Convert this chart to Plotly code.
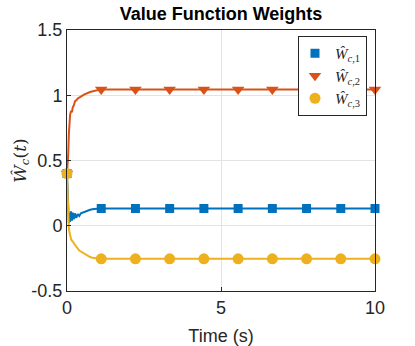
import plotly.graph_objects as go

# time samples (s)
t = [0, 0.02, 0.04, 0.06, 0.08, 0.1, 0.13, 0.16, 0.19, 0.22, 0.26, 0.3, 0.35, 0.4, 0.45,
     0.55, 0.65, 0.75, 0.87, 1.0, 1.111,
     2.222, 3.333, 4.444, 5.556, 6.667, 7.778, 8.889, 10]
w1 = [0.4, 0.25, 0.1, 0.02, 0.1, 0.03, 0.11, 0.04, 0.1, 0.05, 0.095, 0.06, 0.09, 0.075, 0.095,
      0.105, 0.115, 0.122, 0.128, 0.131, 0.132,
      0.132, 0.132, 0.132, 0.132, 0.132, 0.132, 0.132, 0.132]
w2 = [0.4, 0.45, 0.55, 0.7, 0.8, 0.85, 0.88, 0.87, 0.91, 0.92, 0.955, 0.96, 0.975, 0.985, 0.99,
      1.005, 1.017, 1.025, 1.033, 1.04, 1.045,
      1.045, 1.045, 1.045, 1.045, 1.045, 1.045, 1.045, 1.045]
w3 = [0.4, 0.2, 0.05, -0.02, -0.05, -0.084, -0.1, -0.115, -0.12, -0.134, -0.15, -0.165, -0.175, -0.19, -0.198,
      -0.215, -0.23, -0.24, -0.248, -0.252, -0.253,
      -0.253, -0.253, -0.253, -0.253, -0.253, -0.253, -0.253, -0.253]

# marker sample times and values
t_mark = [0, 1.111, 2.222, 3.333, 4.444, 5.556, 6.667, 7.778, 8.889, 10]
m1 = [0.4, 0.132, 0.132, 0.132, 0.132, 0.132, 0.132, 0.132, 0.132, 0.132]
m2 = [0.4, 1.045, 1.045, 1.045, 1.045, 1.045, 1.045, 1.045, 1.045, 1.045]
m3 = [0.4, -0.253, -0.253, -0.253, -0.253, -0.253, -0.253, -0.253, -0.253, -0.253]

names = ["<i>Ŵ</i><sub><i>c</i>,1</sub>", "<i>Ŵ</i><sub><i>c</i>,2</sub>", "<i>Ŵ</i><sub><i>c</i>,3</sub>"]
colors = ["#0072BD", "#D95319", "#EDB120"]
symbols = ["square", "triangle-down", "circle"]

fig = go.Figure()
for ys, ms, nm, c, s in zip([w1, w2, w3], [m1, m2, m3], names, colors, symbols):
    fig.add_trace(go.Scatter(x=t, y=ys, mode="lines", line=dict(color=c, width=2),
                             showlegend=False, hoverinfo="skip"))
    fig.add_trace(go.Scatter(x=t_mark, y=ms, mode="markers", name=nm, cliponaxis=False,
                             marker=dict(color=c, symbol=s, size=11 if s != "square" else 9)))

axis_common = dict(showline=True, mirror=True, linecolor="#262626", linewidth=1,
                   ticks="inside", ticklen=4, tickcolor="#262626",
                   showgrid=True, gridcolor="#e3e3e3", gridwidth=1, zeroline=False,
                   automargin=False,
                   tickfont=dict(family="Liberation Sans, Arial", size=18, color="#262626"))

fig.update_layout(
    width=415, height=346,
    margin=dict(l=67, r=40, t=30, b=55),
    plot_bgcolor="white", paper_bgcolor="white",
    title=dict(text="<b>Value Function Weights</b>", xref="paper", x=0.5, xanchor="center",
               y=0.961, yanchor="middle",
               font=dict(family="Liberation Sans, Arial", size=18, color="black")),
    xaxis=dict(range=[0, 10], tickvals=[0, 5, 10], ticktext=["0", "5", "10"],
               title=dict(text="Time (s)", standoff=14,
                          font=dict(family="Liberation Sans, Arial", size=18, color="#262626")),
               **axis_common),
    yaxis=dict(range=[-0.5, 1.5], tickvals=[-0.5, 0, 0.5, 1, 1.5], ticktext=["-0.5", "0", "0.5", "1", "1.5"],
               title=dict(text="<i>Ŵ</i><sub><i>c</i></sub>(<i>t</i>)", standoff=0,
                          font=dict(family="DejaVu Serif, Liberation Serif", size=17, color="#262626")),
               **axis_common),
    legend=dict(x=0.974, y=0.977, xanchor="right", yanchor="top", bgcolor="white",
                bordercolor="#262626", borderwidth=1,
                font=dict(family="Liberation Serif, DejaVu Serif", size=15, color="#262626"),
                itemwidth=30, tracegroupgap=0, indentation=-4),
    showlegend=True,
)

fig.write_html("out.html", config={"displayModeBar": False},
               post_script="document.body.style.margin='0';")
